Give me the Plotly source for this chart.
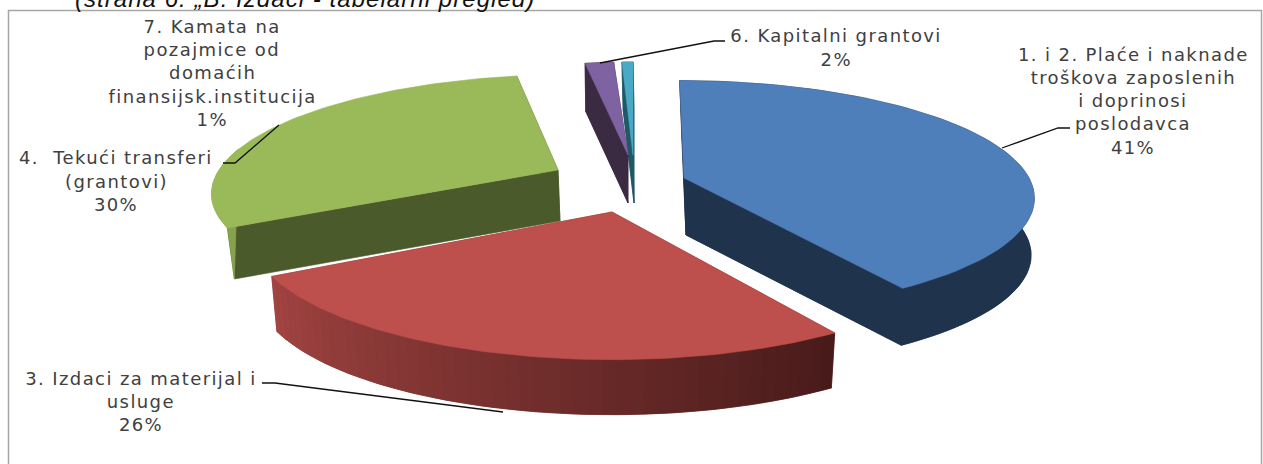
import math
import plotly.graph_objects as go

# ---- data ----
categories = ["1. i 2. Plaće i naknade troškova zaposlenih i doprinosi poslodavca",
              "3. Izdaci za materijal i usluge",
              "4. Tekući transferi (grantovi)",
              "6. Kapitalni grantovi",
              "7. Kamata na pozajmice od domaćih finansijsk.institucija"]
values = [41, 26, 30, 2, 1]
top_colors = ["#4f7fba", "#bd4f4c", "#9aba59", "#7f62a1", "#4aaac5"]
wall_colors = ["#1f334d", "#7a3230", "#4a5a2a", "#3a2a42", "#1f5866"]
rim_colors = ["#1f334d", None, "#86a24c", "#3a2a42", "#1f5866"]

label_lines = [
    ["1. i 2. Plaće i naknade", "troškova zaposlenih", "i doprinosi", "poslodavca", "41%"],
    ["3. Izdaci za materijal i", "usluge", "26%"],
    ["4.  Tekući transferi", "(grantovi)", "30%"],
    ["6. Kapitalni grantovi", "2%"],
    ["7. Kamata na", "pozajmice od", "domaćih", "finansijsk.institucija", "1%"],
]
subtitle = "(strana 6. „B. Izdaci - tabelarni pregled)"

# ---- page-space projection of the tilted pie ----
W, H = 1263, 464
# per-slice: apex x, apex y, horiz radius, vert radius, perspective, shear, depth, base shift
geom = [(684, 178, 345, 113, 0.16, -5, 57, 2),
        (612, 212, 357, 123, 0.167, 0, 55, 0),
        (558, 170, 339, 111, 0.162, 16, 51, 2),
        (628, 155, 265, 108, 0.16, 0, 48, 0),
        (633, 155, 204, 108, 0.16, 0, 48, 1)]
label_pos = [(1133, [54, 77, 100, 123, 147]), (141, [378, 401, 424]),
             (116, [157, 181, 204]), (836, [35, 59]), (212, [26, 49, 72, 96, 119])]
leaders = [[(1002, 148), (1058, 128), (1070, 128)],
           [(262, 383), (275, 383), (503, 412)],
           [(223, 163), (235, 163), (279, 125)],
           [(600, 63), (714, 41), (725, 41)]]
GREEN = 2


def top_pt(g, deg):
    cx, cy, A, B, K, sh = g[:6]
    t = math.radians(deg)
    s = 1 / (1 + K * math.cos(t))
    return cx + (A * math.sin(t) + sh * math.cos(t)) * s, cy - B * math.cos(t) * s


def low_pt(g, deg):
    x, y = top_pt(g, deg)
    return g[0] + g[7] + (x - g[0]) * 0.985, y + g[6]


def arc(fn, g, a, b, n=80):
    return [fn(g, a + (b - a) * i / n) for i in range(n + 1)]


fig = go.Figure()


def poly(pts, color):
    xs = [p[0] for p in pts] + [pts[0][0]]
    ys = [p[1] for p in pts] + [pts[0][1]]
    fig.add_trace(go.Scatter(x=xs, y=ys, mode="lines", fill="toself", fillcolor=color,
                             line=dict(color=color, width=0.6), hoverinfo="skip",
                             showlegend=False))


def lerp_color(c0, c1, f):
    v = [round(c0[i] + (c1[i] - c0[i]) * f) for i in range(3)]
    return "rgb(%d,%d,%d)" % tuple(v)


# angular extents from the values
total = sum(values)
starts, ends = [], []
acc = 0
for v in values:
    starts.append(acc * 360 / total)
    acc += v
    ends.append(acc * 360 / total)

for i in [0, 4, 3, 2, 1]:
    g = geom[i]
    a, b = starts[i], ends[i]
    apex_t = (g[0], g[1])
    apex_l = (g[0] + g[7], g[1] + g[6])
    if i != GREEN:
        poly([apex_l] + arc(low_pt, g, a, b), wall_colors[i])
    for d in (a, b):
        poly([apex_t, top_pt(g, d), low_pt(g, d), apex_l], wall_colors[i])
    if i == GREEN:
        # the left edge runs straight from the widest point to the lower corner
        poly([low_pt(g, a)] + arc(top_pt, g, a, a + 40), rim_colors[i])
    elif rim_colors[i]:
        poly(arc(top_pt, g, a, b) + arc(low_pt, g, b, a), rim_colors[i])
    else:
        n = 50
        for j in range(n):
            d0 = b - (b - a) * j / n
            d1 = b - (b - a) * (j + 1) / n
            f = j / (n - 1)
            poly([top_pt(g, d0), top_pt(g, d1), low_pt(g, d1), low_pt(g, d0)],
                 lerp_color((162, 68, 66), (72, 27, 26), f))
    poly([apex_t] + arc(top_pt, g, a, b), top_colors[i])

for ln in leaders:
    fig.add_trace(go.Scatter(x=[p[0] for p in ln], y=[p[1] for p in ln], mode="lines",
                             line=dict(color="#111111", width=1.3), hoverinfo="skip",
                             showlegend=False))

ann = []
for (cx, ys), lines in zip(label_pos, label_lines):
    for y, t in zip(ys, lines):
        ann.append(dict(x=cx, y=y, text=t, showarrow=False, xanchor="center", yanchor="middle",
                        font=dict(family="DejaVu Sans", size=18, color="#404040")))
ann.append(dict(x=95, y=14, text="<i>" + subtitle + "</i>", showarrow=False, xanchor="left",
                yanchor="bottom", font=dict(family="Liberation Sans", size=24, color="#111111")))

shapes = [dict(type="rect", xref="x", yref="y", x0=8.5, y0=10.5, x1=1261.5, y1=480,
               line=dict(color="#a6a6a6", width=1.5), fillcolor="rgba(0,0,0,0)", layer="below")]

fig.update_layout(
    width=W, height=H, margin=dict(l=0, r=0, t=0, b=0), showlegend=False,
    paper_bgcolor="white", plot_bgcolor="white",
    xaxis=dict(range=[0, W], visible=False, fixedrange=True),
    yaxis=dict(range=[H, 0], visible=False, fixedrange=True),
    annotations=ann, shapes=shapes,
)
post = """
document.body.style.margin='0';
document.body.style.overflow='hidden';
document.querySelectorAll('.annotation-text').forEach(function(t){
  var s=t.style.fontFamily||'';
  t.style.letterSpacing = s.indexOf('DejaVu')>=0 ? '1.4px' : '1.05px';
});
"""
fig.write_html("out.html", config=dict(displayModeBar=False), post_script=post)
